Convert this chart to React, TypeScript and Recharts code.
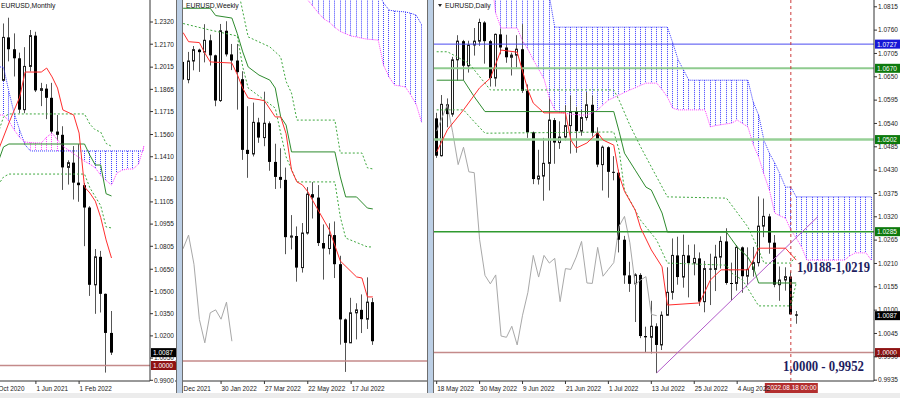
import React from 'react';
import { ComposedChart, Bar, Line, XAxis, YAxis, ReferenceLine } from 'recharts';

const FONT = '"Liberation Sans", Arial, sans-serif';
const SERIF = '"Liberation Serif", "Times New Roman", serif';

type Pt = [number, number];

// ---------- Monthly ----------
const mSlots = 29;
const mTickIdx = [0, 8, 16];
const mTickText = ['1 Oct 2020', '1 Jun 2021', '1 Feb 2022'];
const mPriceTicks = [1.232, 1.217, 1.2015, 1.1865, 1.1715, 1.156, 1.141, 1.126, 1.1105, 1.0955, 1.0805, 1.065, 1.05, 1.035, 1.02, 1.005, 0.99];
const mOpen = [1.1715, 1.1647, 1.1926, 1.2216, 1.2136, 1.2075, 1.1728, 1.202, 1.2228, 1.1858, 1.187, 1.1808, 1.158, 1.1558, 1.1338, 1.137, 1.1235, 1.1218, 1.1067, 1.0545, 1.0734, 1.0484, 1.022];
const mHigh = [1.1881, 1.196, 1.231, 1.2349, 1.2243, 1.2113, 1.215, 1.2266, 1.2254, 1.1909, 1.19, 1.1909, 1.1692, 1.1616, 1.1386, 1.1482, 1.1495, 1.1233, 1.1076, 1.0787, 1.0774, 1.0486, 1.0368];
const mLow = [1.164, 1.1603, 1.1925, 1.2054, 1.1952, 1.1704, 1.1704, 1.1986, 1.1847, 1.1752, 1.1664, 1.1563, 1.1524, 1.1186, 1.1222, 1.1121, 1.1106, 1.0806, 1.047, 1.0349, 1.0358, 0.9952, 1.0071];
const mClose = [1.1647, 1.1926, 1.2216, 1.2136, 1.2075, 1.1728, 1.202, 1.2228, 1.1858, 1.187, 1.1808, 1.158, 1.1558, 1.1338, 1.137, 1.1235, 1.1218, 1.1067, 1.0545, 1.0734, 1.0484, 1.022, 1.0087];
const mTenkan: Pt[] = [[1, 1.145], [3, 1.1638], [4, 1.1726], [5, 1.1813], [6, 1.1982], [9, 1.1982], [10, 1.2009], [11, 1.1949], [12, 1.1874], [13, 1.1726], [15, 1.1692], [16, 1.157], [17, 1.1206], [18, 1.1165], [19, 1.111], [20, 1.1], [21, 1.0848], [22, 1.0726]];
const mKijun: Pt[] = [[1, 1.1374], [2, 1.1476], [3, 1.1496], [17, 1.1496], [18, 1.142], [19, 1.1354], [20, 1.1354], [21, 1.116], [22, 1.1145]];
const mDashUp: Pt[] = [[1, 1.157], [2, 1.1678], [3, 1.1699], [17, 1.1699], [18, 1.163], [19, 1.1591], [20, 1.1577], [21, 1.15], [22, 1.148]];
const mDashLo: Pt[] = [[1, 1.1219], [2, 1.1273], [3, 1.1293], [17, 1.1293], [18, 1.12], [19, 1.114], [20, 1.108], [21, 1.0936], [22, 1.0929]];
const mCloudStart = 1;
const mBlue = [1.2016, 1.2016, 1.185, 1.17, 1.159, 1.149, 1.1449, 1.1449, 1.1449, 1.1449, 1.1449, 1.1449, 1.1449, 1.1449, 1.1449, 1.1449, 1.1449, 1.1449, 1.1449, 1.1449, 1.1449, 1.1449, 1.1449, 1.1449, 1.1449, 1.1449, 1.1449, 1.1449];
const mMag = [1.1692, 1.1692, 1.165, 1.159, 1.154, 1.151, 1.1505, 1.1503, 1.1503, 1.1543, 1.157, 1.1523, 1.148, 1.1456, 1.143, 1.1405, 1.138, 1.136, 1.1335, 1.1285, 1.125, 1.1219, 1.13, 1.132, 1.1327, 1.1327, 1.136, 1.148];

// ---------- Weekly ----------
const wSlots = 46;
const wTickIdx = [0, 8, 16, 24, 32];
const wTickText = ['5 Dec 2021', '30 Jan 2022', '27 Mar 2022', '22 May 2022', '17 Jul 2022'];
const wCandleStart = 1;
const wOpen = [1.1316, 1.1238, 1.132, 1.137, 1.1359, 1.1411, 1.1345, 1.1146, 1.1453, 1.1349, 1.1322, 1.124, 1.0929, 1.0911, 1.105, 1.0983, 1.1046, 1.0876, 1.081, 1.0797, 1.0545, 1.055, 1.0411, 1.0563, 1.0734, 1.0719, 1.0519, 1.0495, 1.0554, 1.0426, 1.0183, 1.008, 1.0212, 1.0225, 1.0184, 1.0259];
const wHigh = [1.1355, 1.136, 1.1386, 1.1374, 1.1482, 1.1436, 1.1348, 1.1483, 1.1495, 1.1395, 1.1395, 1.1275, 1.1121, 1.1137, 1.107, 1.1185, 1.1054, 1.0956, 1.0936, 1.0851, 1.0642, 1.0592, 1.0607, 1.0765, 1.0787, 1.0774, 1.0601, 1.0606, 1.0614, 1.0463, 1.0187, 1.0278, 1.0254, 1.0293, 1.0368, 1.0277];
const wLow = [1.1222, 1.1222, 1.1279, 1.1272, 1.1314, 1.13, 1.1121, 1.114, 1.134, 1.128, 1.1106, 1.0885, 1.0806, 1.09, 1.096, 1.0945, 1.0837, 1.0757, 1.076, 1.047, 1.0491, 1.0349, 1.0389, 1.0556, 1.0627, 1.0506, 1.0358, 1.0469, 1.0365, 1.0072, 0.9952, 1.008, 1.0095, 1.0123, 1.0141, 1.0071];
const wClose = [1.1238, 1.132, 1.137, 1.1359, 1.1411, 1.1345, 1.1146, 1.1453, 1.1349, 1.1322, 1.1271, 1.0929, 1.0911, 1.105, 1.0983, 1.1046, 1.0876, 1.081, 1.0797, 1.0545, 1.055, 1.0411, 1.0563, 1.0734, 1.0719, 1.0519, 1.0495, 1.0554, 1.0426, 1.0183, 1.008, 1.0212, 1.0225, 1.0184, 1.0259, 1.0087];
const wTenkan: Pt[] = [[1, 1.1445], [2, 1.1405], [4, 1.1401], [5, 1.1355], [6, 1.1316], [10, 1.1311], [11, 1.126], [12, 1.12], [13, 1.1157], [15, 1.115], [16, 1.1145], [18, 1.1074], [19, 1.1074], [20, 1.1], [21, 1.084], [22, 1.0788], [23, 1.0775], [24, 1.0745], [26, 1.066], [28, 1.0576], [30, 1.044], [33, 1.037], [34, 1.0365], [35, 1.0282], [36, 1.0282]];
const wKijun: Pt[] = [[1, 1.1552], [6, 1.1552], [7, 1.152], [10, 1.1509], [11, 1.144], [12, 1.136], [13, 1.1294], [15, 1.1258], [17, 1.1236], [18, 1.1201], [19, 1.1074], [20, 1.1038], [21, 1.092], [29, 1.092], [30, 1.081], [31, 1.0722], [33, 1.0722], [35, 1.0673], [36, 1.0669]];
const wDashUp: Pt[] = [[11, 1.165], [13, 1.1426], [15, 1.1404], [17, 1.1382], [19, 1.1338], [20, 1.123], [21, 1.1179], [22, 1.106], [29, 1.106], [30, 1.0915], [34, 1.0915], [35, 1.085], [36, 1.0845]];
const wDashLo: Pt[] = [[1, 1.1485], [6, 1.1456], [11, 1.143], [12, 1.1294], [13, 1.1201], [18, 1.1113], [19, 1.1003], [20, 1.0898], [22, 1.0788], [29, 1.0788], [30, 1.0634], [31, 1.0541], [35, 1.0502], [36, 1.0502]];
const wChikou = [1.0519, 1.0495, 1.0554, 1.0426, 1.0183, 1.008, 1.0212, 1.0225, 1.0184, 1.0259, 1.0087];
const wCloudStart = 23;
const wBlue = [1.17, 1.17, 1.17, 1.17, 1.17, 1.17, 1.17, 1.17, 1.17, 1.17, 1.17, 1.17, 1.17, 1.17, 1.162, 1.1575, 1.1544, 1.154, 1.1538, 1.1536, 1.153, 1.1522, 1.148];
const wMag = [1.164, 1.1588, 1.156, 1.153, 1.1505, 1.149, 1.1468, 1.145, 1.144, 1.143, 1.1426, 1.142, 1.1416, 1.1414, 1.1412, 1.13, 1.125, 1.1214, 1.121, 1.1206, 1.117, 1.113, 1.105];

// ---------- Daily ----------
const dSlots = 82;
const dTickIdx = [0, 8, 16, 24, 32, 40, 48, 56];
const dTickText = ['18 May 2022', '30 May 2022', '9 Jun 2022', '21 Jun 2022', '1 Jul 2022', '13 Jul 2022', '25 Jul 2022', '4 Aug 2022'];
const dPriceTicks = [1.0815, 1.076, 1.0705, 1.065, 1.0595, 1.054, 1.0485, 1.043, 1.0375, 1.032, 1.0265, 1.021, 1.0155, 1.01, 1.0045, 0.999, 0.9935];
const dOpen = [1.0552, 1.0464, 1.0585, 1.0562, 1.069, 1.0734, 1.0676, 1.0725, 1.0734, 1.0778, 1.0734, 1.0647, 1.075, 1.0719, 1.0696, 1.0701, 1.0715, 1.0617, 1.0519, 1.0409, 1.0416, 1.0446, 1.0548, 1.0495, 1.0508, 1.0535, 1.0567, 1.0522, 1.0554, 1.0584, 1.0518, 1.0443, 1.0484, 1.0426, 1.0424, 1.0266, 1.0182, 1.0162, 1.0183, 1.0039, 1.0036, 1.0062, 1.0018, 1.0088, 1.0142, 1.0229, 1.0178, 1.0229, 1.0211, 1.0222, 1.012, 1.0198, 1.0196, 1.0225, 1.0262, 1.0164, 1.0163, 1.0248, 1.018, 1.0196, 1.0212, 1.0298, 1.0321, 1.0259, 1.016, 1.0171, 1.0179, 1.009];
const dHigh = [1.0565, 1.0607, 1.0599, 1.0697, 1.0748, 1.0737, 1.0735, 1.0765, 1.0787, 1.0781, 1.0737, 1.0752, 1.0764, 1.0749, 1.0707, 1.0748, 1.0774, 1.0632, 1.0521, 1.0478, 1.0506, 1.0601, 1.0553, 1.0545, 1.0583, 1.0606, 1.0579, 1.0572, 1.0614, 1.0606, 1.0531, 1.0488, 1.0486, 1.0463, 1.0431, 1.0275, 1.0214, 1.0187, 1.0187, 1.0061, 1.0122, 1.0069, 1.0097, 1.0201, 1.0269, 1.0273, 1.0278, 1.0254, 1.0255, 1.0236, 1.0216, 1.0233, 1.0254, 1.0274, 1.0293, 1.0212, 1.0253, 1.025, 1.0248, 1.0249, 1.0368, 1.0363, 1.0327, 1.0277, 1.0203, 1.0201, 1.0191, 1.0098];
const dLow = [1.0459, 1.0462, 1.0531, 1.0556, 1.0641, 1.0642, 1.066, 1.07, 1.0723, 1.0681, 1.0627, 1.0627, 1.0703, 1.0683, 1.0653, 1.0672, 1.0612, 1.0506, 1.0397, 1.0396, 1.0358, 1.0382, 1.0445, 1.048, 1.05, 1.0469, 1.0471, 1.0511, 1.0547, 1.0509, 1.0437, 1.0382, 1.0365, 1.0406, 1.0236, 1.0162, 1.0143, 1.0072, 1.0034, 0.9999, 0.9998, 0.9952, 1.0006, 1.0087, 1.0125, 1.016, 1.0153, 1.013, 1.0182, 1.011, 1.0095, 1.0112, 1.0145, 1.0198, 1.016, 1.0123, 1.0146, 1.0141, 1.016, 1.0179, 1.0203, 1.0272, 1.0233, 1.0154, 1.0122, 1.0146, 1.009, 1.0068];
const dClose = [1.0464, 1.0585, 1.0562, 1.069, 1.0734, 1.0676, 1.0725, 1.0734, 1.0778, 1.0734, 1.0647, 1.075, 1.0719, 1.0696, 1.0701, 1.0715, 1.0617, 1.0519, 1.0409, 1.0416, 1.0446, 1.0548, 1.0495, 1.0508, 1.0535, 1.0567, 1.0522, 1.0554, 1.0584, 1.0518, 1.0443, 1.0484, 1.0426, 1.0424, 1.0266, 1.0182, 1.0162, 1.0183, 1.0039, 1.0036, 1.0062, 1.0018, 1.0088, 1.0142, 1.0229, 1.0178, 1.0229, 1.0211, 1.0222, 1.012, 1.0198, 1.0196, 1.0225, 1.0262, 1.0164, 1.0163, 1.0248, 1.018, 1.0196, 1.0212, 1.0298, 1.0321, 1.0259, 1.016, 1.0171, 1.0179, 1.009, 1.0087];
const dTenkan: Pt[] = [[0, 1.0473], [2, 1.0525], [5, 1.0572], [8, 1.0624], [10, 1.0647], [12, 1.0713], [15, 1.0708], [17, 1.0619], [18, 1.0588], [20, 1.0565], [24, 1.0565], [25, 1.0501], [26, 1.0482], [28, 1.0494], [30, 1.0518], [31, 1.0501], [33, 1.0489], [34, 1.0418], [35, 1.038], [37, 1.0336], [38, 1.0294], [40, 1.0242], [42, 1.0202], [43, 1.0112], [49, 1.0117], [51, 1.0171], [53, 1.0195], [58, 1.0195], [59, 1.0218], [60, 1.0246], [65, 1.0246], [67, 1.0218]];
const dKijun: Pt[] = [[0, 1.0642], [5, 1.0642], [7, 1.0603], [9, 1.0568], [33, 1.0568], [34, 1.0521], [35, 1.047], [37, 1.043], [39, 1.039], [40, 1.0383], [42, 1.0329], [43, 1.0284], [54, 1.0284], [56, 1.0249], [57, 1.0237], [58, 1.0225], [59, 1.0202], [60, 1.0164], [67, 1.0164]];
const dDashUp: Pt[] = [[0, 1.0709], [2, 1.0709], [6, 1.0682], [10, 1.0619], [33, 1.0619], [34, 1.0595], [36, 1.0536], [38, 1.0485], [41, 1.0414], [43, 1.0367], [54, 1.0364], [58, 1.0296], [60, 1.0242], [61, 1.0211], [66, 1.0211], [67, 1.023]];
const dDashLo: Pt[] = [[0, 1.0572], [5, 1.0572], [7, 1.0544], [9, 1.0517], [33, 1.052], [34, 1.0477], [35, 1.0383], [38, 1.0312], [41, 1.0265], [43, 1.0211], [54, 1.0206], [55, 1.0187], [57, 1.0171], [60, 1.011], [66, 1.011], [67, 1.0164]];
const dChikou = [1.0522, 1.0554, 1.0584, 1.0518, 1.0443, 1.0484, 1.0426, 1.0424, 1.0266, 1.0182, 1.0162, 1.0183, 1.0039, 1.0036, 1.0062, 1.0018, 1.0088, 1.0142, 1.0229, 1.0178, 1.0229, 1.0211, 1.0222, 1.012, 1.0198, 1.0196, 1.0225, 1.0262, 1.0164, 1.0163, 1.0248, 1.018, 1.0196, 1.0212, 1.0298, 1.0321, 1.0259, 1.016, 1.0171, 1.0179, 1.009, 1.0087];
const dCloudStart = 10;
const dBlue = [1.09, 1.09, 1.09, 1.09, 1.09, 1.09, 1.09, 1.09, 1.09, 1.09, 1.09, 1.084,
  1.0767, 1.0767, 1.0767, 1.0767, 1.0767, 1.0767, 1.0767, 1.0767, 1.0767, 1.0767, 1.0767, 1.0767, 1.0767, 1.0767, 1.0767, 1.0767, 1.0767, 1.0767, 1.0767, 1.0767, 1.0767, 1.0767,
  1.073, 1.069, 1.0666, 1.0642, 1.0642, 1.0642, 1.0642, 1.0642, 1.0642, 1.0642, 1.0642, 1.0642, 1.0642, 1.0642, 1.0642,
  1.059, 1.056, 1.05, 1.047, 1.0447, 1.042, 1.039, 1.039,
  1.0367, 1.0367, 1.0367, 1.0367, 1.0367, 1.0367, 1.0367, 1.0367, 1.0367, 1.0367, 1.0367, 1.0367, 1.0367, 1.0367, 1.0367];
const dMag = [1.09, 1.08, 1.0765, 1.0765, 1.0765, 1.0765, 1.0735, 1.0715, 1.069, 1.0668, 1.0645, 1.06, 1.0572, 1.0566, 1.0564, 1.0562, 1.0561, 1.056, 1.056, 1.0565, 1.0572, 1.0584, 1.0595, 1.0601, 1.0607, 1.0613, 1.0619, 1.0624, 1.063, 1.0635, 1.0635, 1.0635, 1.062, 1.0602, 1.0576, 1.0572, 1.0572, 1.0572, 1.0572, 1.0572, 1.0572, 1.0532, 1.0535, 1.0537, 1.0539, 1.0541, 1.0548, 1.054, 1.0532, 1.049, 1.0461, 1.042, 1.0383, 1.0329, 1.0322, 1.0317, 1.0289, 1.027, 1.0249, 1.0218, 1.0218, 1.0218, 1.0218, 1.0218, 1.0218, 1.0218, 1.0218, 1.0228, 1.0235, 1.0235, 1.0235, 1.0218];

function makeRows(n: number, start: number, o: number[], h: number[], l: number[], c: number[], lines: Record<string, Pt[]>, chikou: number[], cloudStart: number, blue: number[], mag: number[]) {
  const rows: any[] = [];
  for (let i = 0; i < n; i++) rows.push({ i });
  o.forEach((v, j) => {
    const r = rows[start + j];
    r.o = v; r.h = h[j]; r.l = l[j]; r.c = c[j];
    r.range = [l[j], h[j]];
  });
  Object.keys(lines).forEach((key) => lines[key].forEach(([i, v]) => { rows[i][key] = v; }));
  chikou.forEach((v, j) => { rows[j].chikou = v; });
  blue.forEach((v, j) => {
    const r = rows[cloudStart + j];
    r.blue = v; r.mag = mag[j];
    r.cloud = [Math.min(v, mag[j]), Math.max(v, mag[j])];
  });
  return rows;
}

const mRows = makeRows(mSlots, 0, mOpen, mHigh, mLow, mClose, { tenkan: mTenkan, kijun: mKijun, dashUp: mDashUp, dashLo: mDashLo }, [], mCloudStart, mBlue, mMag);
const wRows = makeRows(wSlots, wCandleStart, wOpen, wHigh, wLow, wClose, { tenkan: wTenkan, kijun: wKijun, dashUp: wDashUp, dashLo: wDashLo }, wChikou, wCloudStart, wBlue, wMag);
const dRows = makeRows(dSlots, 0, dOpen, dHigh, dLow, dClose, { tenkan: dTenkan, kijun: dKijun, dashUp: dDashUp, dashLo: dDashLo }, dChikou, dCloudStart, dBlue, dMag);

const Candle = (props: any) => {
  const { x, y, width, height, payload } = props;
  if (!payload || payload.o == null || !isFinite(y) || !isFinite(height)) return <g />;
  const { o, h, l, c } = payload;
  const k = h > l ? height / (h - l) : 0;
  const cx = Math.floor(x + width / 2);
  const top = y + (h - Math.max(o, c)) * k;
  const bot = y + (h - Math.min(o, c)) * k;
  const bh = Math.max(bot - top, 1);
  return (
    <g>
      <line x1={cx + 0.5} x2={cx + 0.5} y1={y} y2={y + height} stroke="#555" strokeWidth={1} />
      {c >= o ? (
        <rect x={cx - 0.5} y={top} width={2} height={bh} fill="#fff" stroke="#222" strokeWidth={1} />
      ) : (
        <rect x={cx - 1} y={top} width={3} height={bh} fill="#000" />
      )}
    </g>
  );
};

const Hatch = (props: any) => {
  const { x, y, width, height, payload } = props;
  if (!payload || !payload.cloud || !isFinite(y) || !isFinite(height)) return <g />;
  const cx = Math.floor(x + width / 2) + 0.5;
  const col = payload.blue >= payload.mag ? '#3a3aff' : '#ff45ff';
  return <line x1={cx} x2={cx} y1={y} y2={y + height} stroke={col} strokeWidth={1} strokeDasharray="1 1" />;
};

const DateTick = (props: any) => {
  const { x, y, payload, names } = props;
  return (
    <text x={x + 0.5} y={y + 6.5} fontSize={6.4} fontFamily={FONT} fill="#1a1a1a">
      {names[payload.value]}
    </text>
  );
};

const PriceTick = (props: any) => {
  const { x, y, payload } = props;
  return (
    <text x={x} y={y + 2.3} fontSize={6.5} fontFamily={FONT} fill="#1a1a1a">
      {Number(payload.value).toFixed(4)}
    </text>
  );
};

const AxisTag = (props: any) => {
  const { viewBox, text, bg } = props;
  if (!viewBox) return null;
  const x = viewBox.x + viewBox.width + 1;
  const y = viewBox.y;
  return (
    <g>
      <rect x={x} y={y - 4.5} width={25} height={9} fill={bg} />
      <text x={x + 2} y={y + 2.4} fontSize={6.5} fontFamily={FONT} fill="#fff">{text}</text>
    </g>
  );
};

const DateBox = (props: any) => {
  const { viewBox, text } = props;
  if (!viewBox) return null;
  const x = viewBox.x - 26;
  const y = viewBox.y + viewBox.height + 2;
  return (
    <g>
      <rect x={x} y={y} width={53} height={10} fill="#b32e2e" />
      <text x={x + 2} y={y + 7.3} fontSize={6.4} fontFamily={FONT} fill="#fff">{text}</text>
    </g>
  );
};

type PanelProps = {
  rows: any[];
  width: number;
  padRight: number;
  domain: [number, number];
  priceTicks?: number[];
  tickIdx: number[];
  tickText: string[];
  under?: React.ReactNode;
  over?: React.ReactNode;
};

function Panel({ rows, width, padRight, domain, priceTicks, tickIdx, tickText, under, over }: PanelProps) {
  const names: Record<number, string> = {};
  tickIdx.forEach((t, j) => { names[t] = tickText[j]; });
  const showY = !!priceTicks;
  return (
    <ComposedChart width={width} height={393} data={rows} margin={{ top: 0, right: 0, bottom: 0, left: 0 }}>
      <XAxis dataKey="i" type="category" ticks={tickIdx} interval={0} height={12} tickSize={3} tickMargin={0}
        padding={{ left: 0, right: padRight }} axisLine={{ stroke: '#333' }} tickLine={{ stroke: '#333' }}
        tick={<DateTick names={names} />} />
      <XAxis xAxisId="h" dataKey="i" type="category" hide padding={{ left: 0, right: padRight }} />
      <YAxis orientation="right" type="number" domain={domain} allowDataOverflow hide={!showY} width={26}
        ticks={priceTicks} interval={0} tickSize={3} tickMargin={1}
        axisLine={{ stroke: '#333' }} tickLine={{ stroke: '#333' }} tick={<PriceTick />} />
      <Bar xAxisId="h" dataKey="cloud" barSize={1} shape={Hatch} isAnimationActive={false} />
      <Line dataKey="blue" stroke="#3535ff" strokeDasharray="1 1" strokeWidth={1} dot={false} activeDot={false} connectNulls isAnimationActive={false} />
      <Line dataKey="mag" stroke="#ff3dff" strokeDasharray="1 1" strokeWidth={1} dot={false} activeDot={false} connectNulls isAnimationActive={false} />
      <Line dataKey="chikou" stroke="#a8a8a8" strokeWidth={1} dot={false} activeDot={false} connectNulls isAnimationActive={false} />
      {under}
      <Line dataKey="dashUp" stroke="#3fa83f" strokeDasharray="2 2" strokeWidth={1} dot={false} activeDot={false} connectNulls isAnimationActive={false} />
      <Line dataKey="dashLo" stroke="#3fa83f" strokeDasharray="2 2" strokeWidth={1} dot={false} activeDot={false} connectNulls isAnimationActive={false} />
      <Line dataKey="kijun" stroke="#2e8b2e" strokeWidth={1} dot={false} activeDot={false} connectNulls isAnimationActive={false} />
      <Line dataKey="tenkan" stroke="#ff2e2e" strokeWidth={1} dot={false} activeDot={false} connectNulls isAnimationActive={false} />
      <Bar dataKey="range" barSize={3} shape={Candle} isAnimationActive={false} />
      {over}
    </ComposedChart>
  );
}

const sep = (left: number): React.CSSProperties => ({
  position: 'absolute', left, top: 0, width: 5, height: 393, background: '#bccfe5',
  borderLeft: '1px solid #6e6e6e', borderRight: '1px solid #6e6e6e',
});

export default function App() {
  return (
    <div style={{ position: 'fixed', left: 0, top: 0, width: 900, height: 398, overflow: 'hidden', background: '#fff' }}>
      <div style={{ position: 'absolute', left: -10, top: 0 }}>
        <Panel rows={mRows} width={186} padRight={3.4} domain={[0.98953, 1.24686]} priceTicks={mPriceTicks}
          tickIdx={mTickIdx} tickText={mTickText}
          under={<ReferenceLine y={1.0} stroke="#c48a8a" strokeWidth={1.5} />}
          over={[
            <ReferenceLine key="a" y={1.0087} stroke="none" label={<AxisTag text="1.0087" bg="#000" />} />,
            <ReferenceLine key="b" y={1.0} stroke="none" label={<AxisTag text="1.0000" bg="#8e1212" />} />,
          ]} />
      </div>
      <div style={{ position: 'absolute', left: 175, top: 0 }}>
        <Panel rows={wRows} width={252} padRight={2.7} domain={[0.9912, 1.15884]}
          tickIdx={wTickIdx} tickText={wTickText}
          under={<ReferenceLine y={1.0} stroke="#c48a8a" strokeWidth={1.5} />} />
      </div>
      <div style={{ position: 'absolute', left: 434, top: 0 }}>
        <Panel rows={dRows} width={466} padRight={0} domain={[0.9933, 1.0831]} priceTicks={dPriceTicks}
          tickIdx={dTickIdx} tickText={dTickText}
          under={[
            <ReferenceLine key="l1" y={1.0727} stroke="#4b4bf0" strokeWidth={1} />,
            <ReferenceLine key="l2" y={1.067} stroke="#8fcb8f" strokeWidth={2} />,
            <ReferenceLine key="l3" y={1.0502} stroke="#97d097" strokeWidth={2.5} />,
            <ReferenceLine key="l4" y={1.0285} stroke="#2f9a2f" strokeWidth={1.5} />,
            <ReferenceLine key="l5" y={1.0} stroke="#c48a8a" strokeWidth={1.5} />,
            <ReferenceLine key="tl" segment={[{ x: 41, y: 0.9952 }, { x: 71, y: 1.032 }]} stroke="#b25bc9" strokeWidth={1} />,
          ]}
          over={[
            <ReferenceLine key="v" x={66} stroke="#cc3b3b" strokeDasharray="3 3" strokeWidth={1} label={<DateBox text="2022.08.18 00:00" />} />,
            <ReferenceLine key="t1" y={1.0727} stroke="none" label={<AxisTag text="1.0727" bg="#1616d6" />} />,
            <ReferenceLine key="t2" y={1.067} stroke="none" label={<AxisTag text="1.0670" bg="#0d7a0d" />} />,
            <ReferenceLine key="t3" y={1.0502} stroke="none" label={<AxisTag text="1.0502" bg="#0d7a0d" />} />,
            <ReferenceLine key="t4" y={1.0285} stroke="none" label={<AxisTag text="1.0285" bg="#0d7a0d" />} />,
            <ReferenceLine key="t5" y={1.0087} stroke="none" label={<AxisTag text="1.0087" bg="#000" />} />,
            <ReferenceLine key="t6" y={1.0} stroke="none" label={<AxisTag text="1.0000" bg="#8e1212" />} />,
          ]} />
      </div>
      <div style={sep(176)} />
      <div style={sep(427)} />
      <div style={{ position: 'absolute', left: 0, top: 393, width: 900, height: 5, background: '#ececec' }} />
      <svg style={{ position: 'absolute', left: 0, top: 0, pointerEvents: 'none' }} width={900} height={398}>
        <text x={1} y={7.5} fontSize={6.8} fontFamily={FONT} fill="#111">EURUSD,Monthly</text>
        <text x={186} y={7.5} fontSize={6.8} fontFamily={FONT} fill="#111">EURUSD,Weekly</text>
        <polygon points="438,4 442,4 440,7" fill="#222" />
        <text x={445} y={7.5} fontSize={6.8} fontFamily={FONT} fill="#111">EURUSD,Daily</text>
        <text x={797} y={271.5} fontSize={14} fontWeight="bold" fontFamily={SERIF} fill="#1d1d5f" textLength={73} lengthAdjust="spacingAndGlyphs">1,0188-1,0219</text>
        <text x={783} y={370.5} fontSize={14} fontWeight="bold" fontFamily={SERIF} fill="#1d1d5f" textLength={81} lengthAdjust="spacingAndGlyphs">1,0000 - 0,9952</text>
      </svg>
    </div>
  );
}
